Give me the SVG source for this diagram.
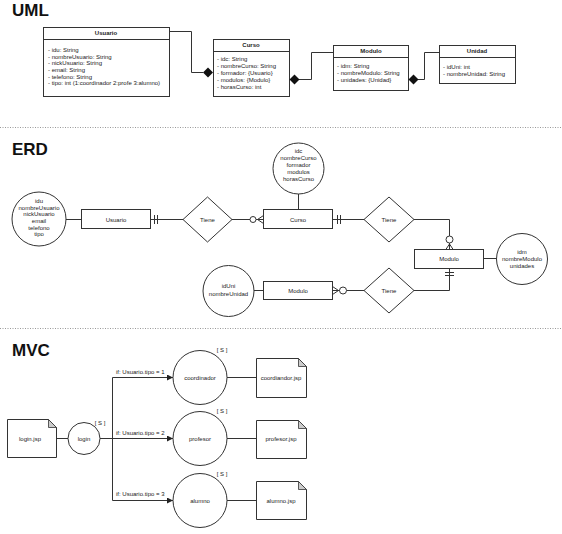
<svg xmlns="http://www.w3.org/2000/svg" width="562" height="534" viewBox="0 0 562 534">
  <style>
    text { font-family: "Liberation Sans", Arial, sans-serif; fill: #222; }
    .title { font-size: 17px; font-weight: bold; fill: #111; }
    .hdr { font-size: 6px; font-weight: bold; text-anchor: middle; }
    .attr { font-size: 6px; }
    .lbl { font-size: 6px; text-anchor: middle; }
    .box { fill: #fff; stroke: #333; stroke-width: 1; }
    .line { fill: none; stroke: #333; stroke-width: 1; }
    .sep { stroke: #999; stroke-width: 1; stroke-dasharray: 1 1.5; }
  </style>
  <defs>
    <marker id="arrow" viewBox="0 0 8 8" refX="8" refY="4" markerWidth="6" markerHeight="6" orient="auto" markerUnits="userSpaceOnUse">
      <path d="M0,0 L8,4 L0,8 Z" fill="#222"/>
    </marker>
  </defs>

  <!-- section titles and separators -->
  <text class="title" x="12" y="16">UML</text>
  <text class="title" x="12" y="155">ERD</text>
  <text class="title" x="12" y="356">MVC</text>
  <line class="sep" x1="0" y1="127.5" x2="562" y2="127.5"/>
  <line class="sep" x1="0" y1="328.5" x2="562" y2="328.5"/>

  <!-- ===== UML class diagram ===== -->
  <g id="uml-usuario">
    <rect class="box" x="43.5" y="27.5" width="126" height="69"/>
    <line class="line" x1="43.5" y1="39.5" x2="169.5" y2="39.5"/>
    <text class="hdr" x="106" y="35">Usuario</text>
    <text class="attr" x="48" y="52">- idu: String</text>
    <text class="attr" x="48" y="58.7">- nombreUsuario: String</text>
    <text class="attr" x="48" y="65.3">- nickUsuario: String</text>
    <text class="attr" x="48" y="72">- email: String</text>
    <text class="attr" x="48" y="78.7">- telefono: String</text>
    <text class="attr" x="48" y="85.3">- tipo: int (1:coordinador 2:profe 3:alumno)</text>
  </g>
  <g id="uml-curso">
    <rect class="box" x="213.5" y="39.5" width="76" height="57"/>
    <line class="line" x1="213.5" y1="51.5" x2="289.5" y2="51.5"/>
    <text class="hdr" x="251" y="47">Curso</text>
    <text class="attr" x="217" y="61">- idc: String</text>
    <text class="attr" x="217" y="68">- nombreCurso: String</text>
    <text class="attr" x="217" y="75">- formador: {Usuario}</text>
    <text class="attr" x="217" y="82">- modulos: {Modulo}</text>
    <text class="attr" x="217" y="89">- horasCurso: int</text>
  </g>
  <g id="uml-modulo">
    <rect class="box" x="333.5" y="45.5" width="75" height="45"/>
    <line class="line" x1="333.5" y1="57.5" x2="408.5" y2="57.5"/>
    <text class="hdr" x="371" y="53">Modulo</text>
    <text class="attr" x="337" y="68">- idm: String</text>
    <text class="attr" x="337" y="75">- nombreModulo: String</text>
    <text class="attr" x="337" y="82">- unidades: {Unidad}</text>
  </g>
  <g id="uml-unidad">
    <rect class="box" x="439.5" y="45.5" width="76" height="38"/>
    <line class="line" x1="439.5" y1="57.5" x2="515.5" y2="57.5"/>
    <text class="hdr" x="477" y="53">Unidad</text>
    <text class="attr" x="443" y="69">- idUni: int</text>
    <text class="attr" x="443" y="76">- nombreUnidad: String</text>
  </g>
  <g id="uml-connectors">
    <polyline class="line" points="169.5,31.5 191.5,31.5 191.5,72.5 203,72.5"/>
    <path d="M203,72.5 L208,67.5 L213,72.5 L208,77.5 Z" fill="#111"/>
    <polyline class="line" points="299,79.5 311.5,79.5 311.5,52.5 333.5,52.5"/>
    <path d="M289.5,79.5 L294.5,74.5 L299.5,79.5 L294.5,84.5 Z" fill="#111"/>
    <polyline class="line" points="418,79.5 424.5,79.5 424.5,52.5 439.5,52.5"/>
    <path d="M408.5,79.5 L413.5,74.5 L418.5,79.5 L413.5,84.5 Z" fill="#111"/>
  </g>

  <!-- ===== ER diagram ===== -->
  <g id="erd-connectors">
    <line class="line" x1="66" y1="219.5" x2="81" y2="219.5"/>
    <line class="line" x1="151" y1="219.5" x2="183" y2="219.5"/>
    <line class="line" x1="154.5" y1="215" x2="154.5" y2="224"/>
    <line class="line" x1="157.5" y1="215" x2="157.5" y2="224"/>
    <line class="line" x1="232" y1="219.5" x2="250" y2="219.5"/>
    <circle cx="253" cy="219.5" r="3" fill="#fff" stroke="#333"/>
    <polyline class="line" points="263.5,215.5 257.5,219.5 263.5,223.5"/>
    <line class="line" x1="256" y1="219.5" x2="263.5" y2="219.5"/>
    <line class="line" x1="298.5" y1="194" x2="298.5" y2="209.5"/>
    <line class="line" x1="333" y1="219.5" x2="364" y2="219.5"/>
    <line class="line" x1="337.5" y1="215" x2="337.5" y2="224"/>
    <line class="line" x1="340.5" y1="215" x2="340.5" y2="224"/>
    <polyline class="line" points="414,219.5 449.5,219.5 449.5,236"/>
    <circle cx="449.5" cy="239.5" r="3.5" fill="#fff" stroke="#333"/>
    <polyline class="line" points="445.5,250 449.5,244 453.5,250"/>
    <line class="line" x1="449.5" y1="243" x2="449.5" y2="250"/>
    <line class="line" x1="484" y1="258.5" x2="497" y2="258.5"/>
    <polyline class="line" points="449.5,268 449.5,290.5 414,290.5"/>
    <line class="line" x1="445" y1="272.5" x2="454" y2="272.5"/>
    <line class="line" x1="445" y1="275.5" x2="454" y2="275.5"/>
    <line class="line" x1="364" y1="290.5" x2="346.5" y2="290.5"/>
    <circle cx="343" cy="290.5" r="3.5" fill="#fff" stroke="#333"/>
    <polyline class="line" points="332.5,286.5 338.5,290.5 332.5,294.5"/>
    <line class="line" x1="332.5" y1="290.5" x2="339.5" y2="290.5"/>
    <line class="line" x1="254" y1="290.5" x2="263" y2="290.5"/>
  </g>
  <g id="erd-usuario-attrs">
    <circle cx="39" cy="219" r="27" fill="#fff" stroke="#333"/>
    <text class="lbl" x="39" y="203">idu</text>
    <text class="lbl" x="39" y="209.5">nombreUsuario</text>
    <text class="lbl" x="39" y="216">nickUsuario</text>
    <text class="lbl" x="39" y="223">email</text>
    <text class="lbl" x="39" y="229.5">telefono</text>
    <text class="lbl" x="39" y="236">tipo</text>
  </g>
  <g id="erd-usuario">
    <rect class="box" x="81.5" y="209.5" width="69" height="19"/>
    <text class="lbl" x="116" y="221.5">Usuario</text>
  </g>
  <g id="erd-tiene-1">
    <path class="box" d="M183,219.5 L207.5,197 L232,219.5 L207.5,242 Z"/>
    <text class="lbl" x="207.5" y="221.5">Tiene</text>
  </g>
  <g id="erd-curso-attrs">
    <circle cx="298.5" cy="168.5" r="25.5" fill="#fff" stroke="#333"/>
    <text class="lbl" x="298.5" y="152.5">idc</text>
    <text class="lbl" x="298.5" y="159.5">nombreCurso</text>
    <text class="lbl" x="298.5" y="166.5">formador</text>
    <text class="lbl" x="298.5" y="173.5">modulos</text>
    <text class="lbl" x="298.5" y="180.5">horasCurso</text>
  </g>
  <g id="erd-curso">
    <rect class="box" x="263.5" y="209.5" width="69" height="19"/>
    <text class="lbl" x="298" y="221.5">Curso</text>
  </g>
  <g id="erd-tiene-2">
    <path class="box" d="M364,219.5 L389,197 L414,219.5 L389,242 Z"/>
    <text class="lbl" x="389" y="221.5">Tiene</text>
  </g>
  <g id="erd-modulo">
    <rect class="box" x="414.5" y="249.5" width="69" height="19"/>
    <text class="lbl" x="449" y="261">Modulo</text>
  </g>
  <g id="erd-modulo-attrs">
    <circle cx="522" cy="259" r="25.5" fill="#fff" stroke="#333"/>
    <text class="lbl" x="522" y="254">idm</text>
    <text class="lbl" x="522" y="261">nombreModulo</text>
    <text class="lbl" x="522" y="268">unidades</text>
  </g>
  <g id="erd-tiene-3">
    <path class="box" d="M364,290.5 L389,268 L414,290.5 L389,313 Z"/>
    <text class="lbl" x="389" y="292.5">Tiene</text>
  </g>
  <g id="erd-unidad">
    <rect class="box" x="263.5" y="281.5" width="69" height="18"/>
    <text class="lbl" x="298" y="292.5">Modulo</text>
  </g>
  <g id="erd-unidad-attrs">
    <circle cx="228.5" cy="291" r="25.5" fill="#fff" stroke="#333"/>
    <text class="lbl" x="228.5" y="288">idUni</text>
    <text class="lbl" x="228.5" y="295.5">nombreUnidad</text>
  </g>

  <!-- ===== MVC flow ===== -->
  <g id="mvc-connectors">
    <line class="line" x1="56" y1="438.5" x2="68" y2="438.5"/>
    <polyline class="line" points="100,438.5 112.5,438.5"/>
    <line class="line" x1="112.5" y1="377.5" x2="112.5" y2="500.5"/>
    <line class="line" x1="112.5" y1="377.5" x2="173" y2="377.5" marker-end="url(#arrow)"/>
    <line class="line" x1="112.5" y1="438.5" x2="173" y2="438.5" marker-end="url(#arrow)"/>
    <line class="line" x1="112.5" y1="500.5" x2="173" y2="500.5" marker-end="url(#arrow)"/>
    <text class="attr" x="116" y="374">if: Usuario.tipo = 1</text>
    <text class="attr" x="116" y="435">if: Usuario.tipo = 2</text>
    <text class="attr" x="116" y="496">if: Usuario.tipo = 3</text>
    <line class="line" x1="227" y1="377.5" x2="256" y2="377.5"/>
    <line class="line" x1="227" y1="438.5" x2="256" y2="438.5"/>
    <line class="line" x1="227" y1="500.5" x2="256" y2="500.5"/>
  </g>
  <g id="mvc-login-jsp">
    <path class="box" d="M7.5,419.5 H48.5 L56.5,427.5 V457.5 H7.5 Z"/>
    <path d="M48.5,419.5 L56.5,427.5 H48.5 Z" fill="#ccc" stroke="#333" stroke-width="0.8"/>
    <text class="lbl" x="30" y="440.5">login.jsp</text>
  </g>
  <g id="mvc-login">
    <circle cx="84" cy="438.5" r="16" fill="#fff" stroke="#333"/>
    <text class="lbl" x="84" y="440.5">login</text>
    <text class="lbl" x="100" y="425">[ S ]</text>
  </g>
  <g id="mvc-coordinador">
    <circle cx="200" cy="377.5" r="27" fill="#fff" stroke="#333"/>
    <text class="lbl" x="200" y="379.5">coordinador</text>
    <text class="lbl" x="222" y="352">[ S ]</text>
  </g>
  <g id="mvc-profesor">
    <circle cx="200" cy="438.5" r="27" fill="#fff" stroke="#333"/>
    <text class="lbl" x="200" y="440.5">profesor</text>
    <text class="lbl" x="222" y="413">[ S ]</text>
  </g>
  <g id="mvc-alumno">
    <circle cx="200" cy="500.5" r="27" fill="#fff" stroke="#333"/>
    <text class="lbl" x="200" y="502.5">alumno</text>
    <text class="lbl" x="222" y="476">[ S ]</text>
  </g>
  <g id="mvc-coordinador-jsp">
    <path class="box" d="M256.5,358.5 H298.5 L306.5,366.5 V397.5 H256.5 Z"/>
    <path d="M298.5,358.5 L306.5,366.5 H298.5 Z" fill="#ccc" stroke="#333" stroke-width="0.8"/>
    <text class="lbl" x="281" y="379.5">coordiandor.jsp</text>
  </g>
  <g id="mvc-profesor-jsp">
    <path class="box" d="M256.5,420.5 H298.5 L306.5,428.5 V458.5 H256.5 Z"/>
    <path d="M298.5,420.5 L306.5,428.5 H298.5 Z" fill="#ccc" stroke="#333" stroke-width="0.8"/>
    <text class="lbl" x="281" y="440.5">profesor.jsp</text>
  </g>
  <g id="mvc-alumno-jsp">
    <path class="box" d="M256.5,481.5 H298.5 L306.5,489.5 V519.5 H256.5 Z"/>
    <path d="M298.5,481.5 L306.5,489.5 H298.5 Z" fill="#ccc" stroke="#333" stroke-width="0.8"/>
    <text class="lbl" x="281" y="502.5">alumno.jsp</text>
  </g>
</svg>
